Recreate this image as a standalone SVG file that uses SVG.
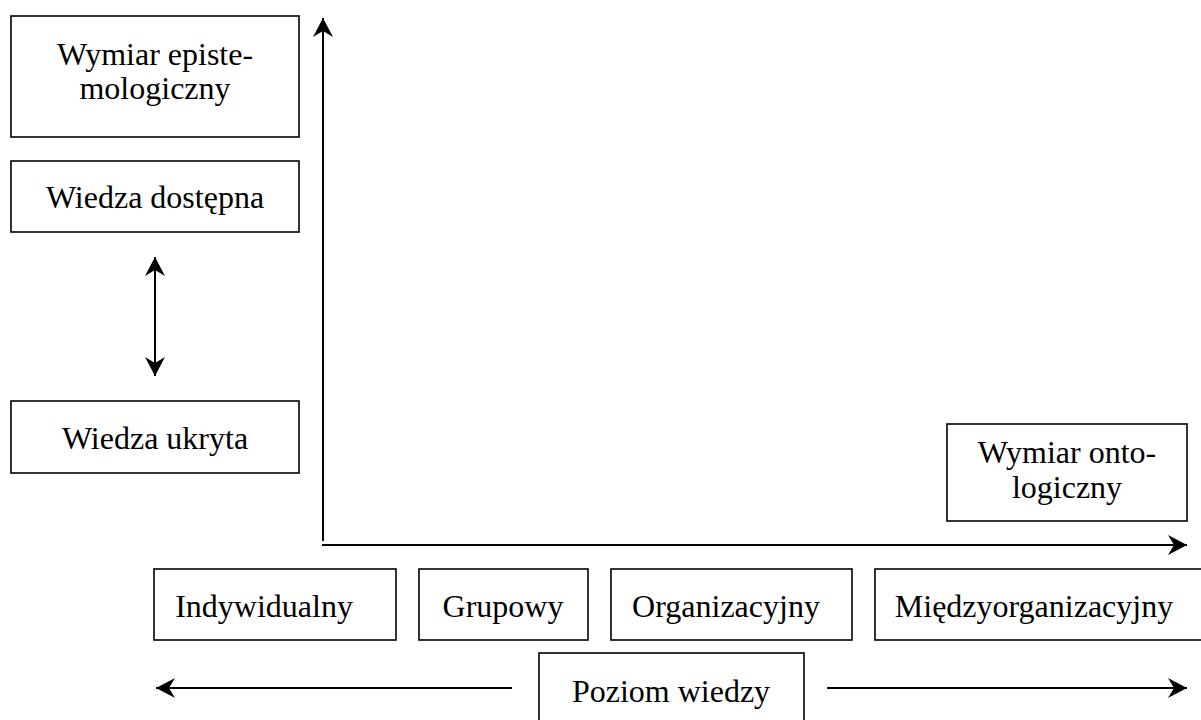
<svg xmlns="http://www.w3.org/2000/svg" width="1201" height="720" viewBox="0 0 1201 720">
<style>
.box{fill:#fff;stroke:#000;stroke-width:1.6}
.t{font-family:"Liberation Serif","Times New Roman",serif;font-size:32px;fill:#000;text-anchor:middle}
.ln{stroke:#000;stroke-width:2;fill:none}
</style>
<defs>
<marker id="ah" viewBox="-21 -11 23 22" refX="0" refY="0" markerWidth="23" markerHeight="22" markerUnits="userSpaceOnUse" orient="auto-start-reverse">
<path d="M0,0 L-19,-10 L-13,0 L-19,10 Z" fill="#000"/>
</marker>
</defs>
<rect width="1201" height="720" fill="#fff"/>
<g id="connectors">
<line class="ln" x1="323" y1="541" x2="323" y2="18" marker-end="url(#ah)"/>
<line class="ln" x1="322" y1="545" x2="1187" y2="545" marker-end="url(#ah)"/>
<line class="ln" x1="155" y1="257" x2="155" y2="376" marker-start="url(#ah)" marker-end="url(#ah)"/>
<line class="ln" x1="512" y1="688" x2="156" y2="688" marker-end="url(#ah)"/>
<line class="ln" x1="827" y1="688" x2="1187" y2="688" marker-end="url(#ah)"/>
</g>
<g id="epistemologiczny">
<rect class="box" x="11" y="16" width="288" height="121"/>
<text class="t" x="155" y="65">Wymiar episte-</text>
<text class="t" x="155" y="99">mologiczny</text>
</g>
<g id="dostepna">
<rect class="box" x="11" y="161" width="288" height="71"/>
<text class="t" x="155" y="208">Wiedza dostępna</text>
</g>
<g id="ukryta">
<rect class="box" x="11" y="401" width="288" height="72"/>
<text class="t" x="155" y="449">Wiedza ukryta</text>
</g>
<g id="ontologiczny">
<rect class="box" x="947" y="424" width="240" height="97"/>
<text class="t" x="1067" y="463">Wymiar onto-</text>
<text class="t" x="1067" y="498">logiczny</text>
</g>
<g id="indywidualny">
<rect class="box" x="154" y="569" width="242" height="71"/>
<text class="t" x="264" y="617">Indywidualny</text>
</g>
<g id="grupowy">
<rect class="box" x="419" y="569" width="169" height="71"/>
<text class="t" x="503" y="617">Grupowy</text>
</g>
<g id="organizacyjny">
<rect class="box" x="611" y="569" width="241" height="71"/>
<text class="t" x="726" y="617">Organizacyjny</text>
</g>
<g id="miedzyorganizacyjny">
<rect class="box" x="875" y="569" width="340" height="71"/>
<text class="t" x="1034" y="617">Międzyorganizacyjny</text>
</g>
<g id="poziom">
<rect class="box" x="539" y="653" width="265" height="80"/>
<text class="t" x="671" y="702">Poziom wiedzy</text>
</g>
</svg>
